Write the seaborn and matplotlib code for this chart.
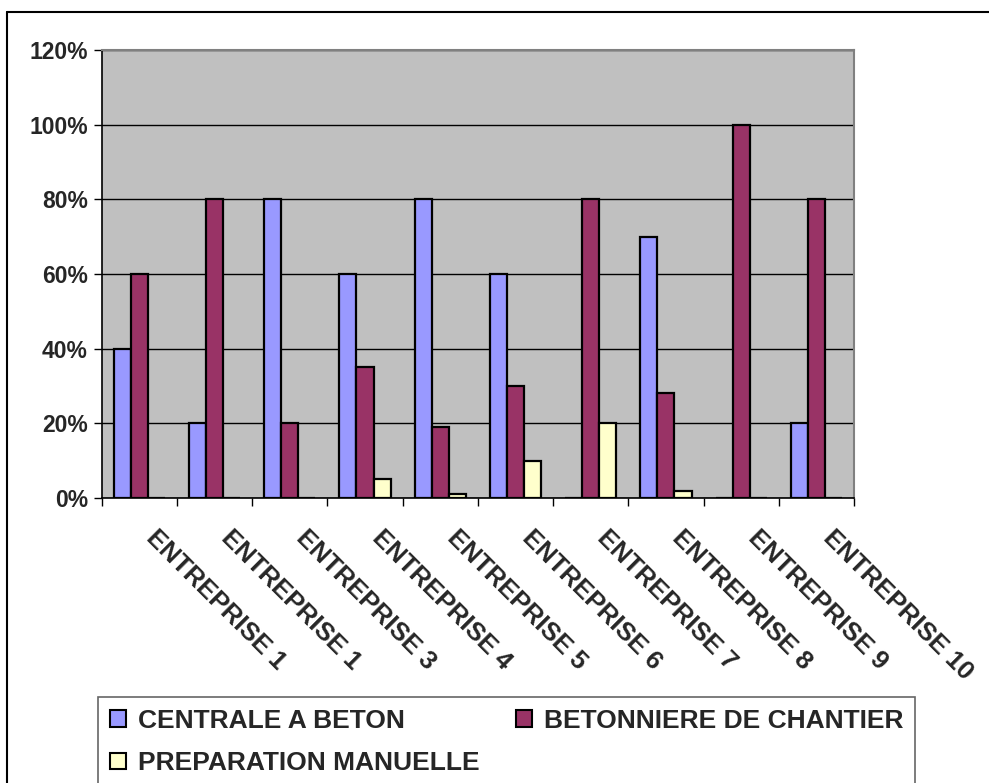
import matplotlib
matplotlib.use("Agg")
import matplotlib.pyplot as plt
import matplotlib.transforms as mtransforms
from matplotlib.lines import Line2D
import seaborn as sns
import pandas as pd

categories = ["ENTREPRISE 1", "ENTREPRISE 1", "ENTREPRISE 3", "ENTREPRISE 4", "ENTREPRISE 5",
              "ENTREPRISE 6", "ENTREPRISE 7", "ENTREPRISE 8", "ENTREPRISE 9", "ENTREPRISE 10"]
series_names = ["CENTRALE A BETON", "BETONNIERE DE CHANTIER", "PREPARATION MANUELLE"]
centrale = [40, 20, 80, 60, 80, 60, 0, 70, 0, 20]
betonniere = [60, 80, 20, 35, 19, 30, 80, 28, 100, 80]
manuelle = [0, 0, 0, 5, 1, 10, 20, 2, 0, 0]
yticks = [0, 20, 40, 60, 80, 100, 120]
colors = ["#9999FF", "#993366", "#FFFFCC"]

rows = []
for i in range(len(categories)):
    for name, vals in zip(series_names, [centrale, betonniere, manuelle]):
        rows.append({"idx": i, "series": name, "val": vals[i]})
df = pd.DataFrame(rows)

sns.set_theme(style="white")
plt.rcParams["font.family"] = ["Liberation Sans", "DejaVu Sans"]
plt.rcParams["font.weight"] = "bold"

W, H = 989, 783
fig = plt.figure(figsize=(W / 100, H / 100), dpi=100)
ax = fig.add_axes([101.7 / W, 1 - 498 / H, (854 - 101.7) / W, (498 - 50) / H])
ax.set_facecolor("#C0C0C0")

sns.barplot(data=df, x="idx", y="val", hue="series", hue_order=series_names,
            palette=colors, width=0.68, saturation=1, edgecolor="black",
            linewidth=1.6, ax=ax, legend=True)

ax.set_ylim(0, 120)
ax.set_xlim(-0.5, len(categories) - 0.5)
ax.set_yticks(yticks)
ax.set_yticklabels([f"{v}%" for v in yticks], fontsize=16.5, fontweight="bold")
ax.yaxis.grid(True, color="black", linewidth=1)
ax.set_axisbelow(True)
ax.tick_params(axis="y", direction="out", length=6, width=1, color="black", left=True, pad=4)

ax.set_xticks(range(len(categories)))
ax.set_xticks([i - 0.5 for i in range(len(categories) + 1)], minor=True)
ax.tick_params(axis="x", which="major", length=0, pad=20)
ax.tick_params(axis="x", which="minor", direction="out", length=6, width=1, color="black", bottom=True)
ax.set_xticklabels(categories, rotation=-45, ha="left", rotation_mode="anchor",
                   fontsize=18.5, fontweight="bold")
offset = mtransforms.ScaledTranslation(19 / 100, 0, fig.dpi_scale_trans)
for lab in ax.get_xticklabels():
    lab.set_transform(lab.get_transform() + offset)
ax.set_xlabel("")
ax.set_ylabel("")

for s in ["left", "bottom"]:
    ax.spines[s].set_color("black")
    ax.spines[s].set_linewidth(1.2)
for s in ["top", "right"]:
    ax.spines[s].set_color("#808080")
    ax.spines[s].set_linewidth(1.5)

handles, labels = ax.get_legend_handles_labels()
ax.get_legend().remove()
order = [0, 2, 1]
leg = fig.legend([handles[i] for i in order], [labels[i] for i in order],
                 loc="upper left", bbox_to_anchor=(98 / W, 1 - 697 / H),
                 ncol=2, frameon=True, fancybox=False, prop={"size": 19, "weight": "bold"},
                 handlelength=0.6, handleheight=0.6, handletextpad=0.45,
                 columnspacing=1.4, borderpad=0.45, labelspacing=0.7, borderaxespad=0)
leg.get_frame().set_edgecolor("#404040")
leg.get_frame().set_linewidth(1.2)
for h in leg.legend_handles:
    h.set_edgecolor("black")
    h.set_linewidth(1.5)

fig.add_artist(Line2D([7 / W, 7 / W], [0, 1 - 12 / H], color="black", linewidth=1.5))
fig.add_artist(Line2D([7 / W, 1], [1 - 12 / H, 1 - 12 / H], color="black", linewidth=1.5))

fig.savefig("out.png", dpi=100, facecolor="white")
